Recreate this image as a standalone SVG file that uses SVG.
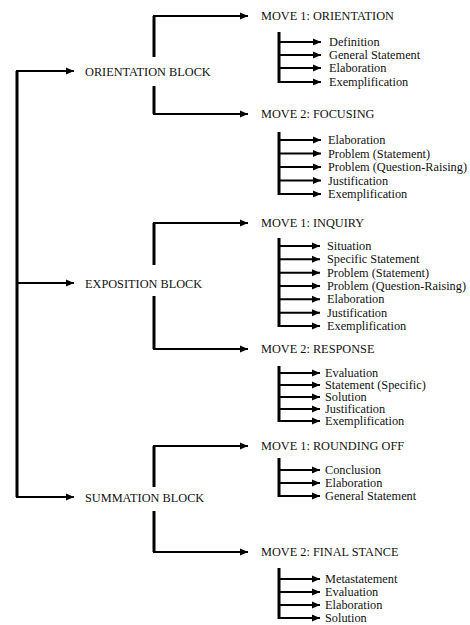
<svg xmlns="http://www.w3.org/2000/svg" width="470" height="625" viewBox="0 0 470 625">
<style>
text{font-family:"Liberation Serif","Times New Roman",serif;font-size:12.3px;fill:#111}
.ln{fill:none;stroke:#000;stroke-width:2}
.vt{fill:none;stroke:#000;stroke-width:3}
.ar{fill:none;stroke:#000;stroke-width:2;marker-end:url(#ah)}
</style>
<defs>
<marker id="ah" markerUnits="userSpaceOnUse" markerWidth="9" markerHeight="8" refX="8" refY="4" orient="auto">
<path d="M0,0.5 L8,4 L0,7.5 Z" fill="#000"/>
</marker>
</defs>
<rect width="470" height="625" fill="#fff"/>
<g id="connectors">
<path class="vt" d="M17,71 V497"/>
<path class="ar" d="M16,71 H74"/>
<path class="ar" d="M17,283 H74"/>
<path class="ar" d="M16,497 H74"/>
<path class="vt" d="M154,57 V16"/><path class="ar" d="M153,16 H248"/>
<path class="vt" d="M154,86 V114"/><path class="ar" d="M153,114 H248"/>
<path class="vt" d="M154,265 V223"/><path class="ar" d="M153,223 H248"/>
<path class="vt" d="M154,296 V349"/><path class="ar" d="M153,349 H248"/>
<path class="vt" d="M154,487 V446"/><path class="ar" d="M153,446 H248"/>
<path class="vt" d="M154,511 V552"/><path class="ar" d="M153,552 H248"/>
<path class="vt" d="M279,32 V83"/>
<path class="ar" d="M279,42 H321"/><path class="ar" d="M279,55 H321"/><path class="ar" d="M279,68 H321"/><path class="ar" d="M279,82 H321"/>
<path class="vt" d="M279,132 V195"/>
<path class="ar" d="M279,140 H321"/><path class="ar" d="M279,153.5 H321"/><path class="ar" d="M279,167 H321"/><path class="ar" d="M279,180.5 H321"/><path class="ar" d="M279,194 H321"/>
<path class="vt" d="M279,238 V327"/>
<path class="ar" d="M279,246 H320"/><path class="ar" d="M279,259.3 H320"/><path class="ar" d="M279,272.7 H320"/><path class="ar" d="M279,286 H320"/><path class="ar" d="M279,299.3 H320"/><path class="ar" d="M279,312.7 H320"/><path class="ar" d="M279,326 H320"/>
<path class="vt" d="M279,366 V422"/>
<path class="ar" d="M279,373 H320"/><path class="ar" d="M279,385 H320"/><path class="ar" d="M279,397 H320"/><path class="ar" d="M279,409 H320"/><path class="ar" d="M279,421 H320"/>
<path class="vt" d="M279,458 V497"/>
<path class="ar" d="M279,470 H320"/><path class="ar" d="M279,483 H320"/><path class="ar" d="M279,496 H320"/>
<path class="vt" d="M279,568 V619"/>
<path class="ar" d="M279,579 H320"/><path class="ar" d="M279,592 H320"/><path class="ar" d="M279,605 H320"/><path class="ar" d="M279,618 H320"/>
</g>
<g id="orientation-block"><text x="85" y="75.5">ORIENTATION BLOCK</text></g>
<g id="exposition-block"><text x="85" y="287.5">EXPOSITION BLOCK</text></g>
<g id="summation-block"><text x="85" y="501.5">SUMMATION BLOCK</text></g>
<g id="move1-orientation">
<text x="261" y="20">MOVE 1: ORIENTATION</text>
<text x="329" y="46">Definition</text>
<text x="329" y="59">General Statement</text>
<text x="329" y="72">Elaboration</text>
<text x="329" y="86">Exemplification</text>
</g>
<g id="move2-focusing">
<text x="261" y="118">MOVE 2: FOCUSING</text>
<text x="328" y="144">Elaboration</text>
<text x="328" y="157.5">Problem (Statement)</text>
<text x="328" y="171">Problem (Question-Raising)</text>
<text x="328" y="184.5">Justification</text>
<text x="328" y="198">Exemplification</text>
</g>
<g id="move1-inquiry">
<text x="261" y="227">MOVE 1: INQUIRY</text>
<text x="327" y="250">Situation</text>
<text x="327" y="263.3">Specific Statement</text>
<text x="327" y="276.7">Problem (Statement)</text>
<text x="327" y="290">Problem (Question-Raising)</text>
<text x="327" y="303.3">Elaboration</text>
<text x="327" y="316.7">Justification</text>
<text x="327" y="330">Exemplification</text>
</g>
<g id="move2-response">
<text x="261" y="353">MOVE 2: RESPONSE</text>
<text x="325" y="377">Evaluation</text>
<text x="325" y="389">Statement (Specific)</text>
<text x="325" y="401">Solution</text>
<text x="325" y="413">Justification</text>
<text x="325" y="425">Exemplification</text>
</g>
<g id="move1-rounding-off">
<text x="261" y="450">MOVE 1: ROUNDING OFF</text>
<text x="325" y="474">Conclusion</text>
<text x="325" y="487">Elaboration</text>
<text x="325" y="500">General Statement</text>
</g>
<g id="move2-final-stance">
<text x="261" y="556">MOVE 2: FINAL STANCE</text>
<text x="325" y="583">Metastatement</text>
<text x="325" y="596">Evaluation</text>
<text x="325" y="609">Elaboration</text>
<text x="325" y="622">Solution</text>
</g>
</svg>
